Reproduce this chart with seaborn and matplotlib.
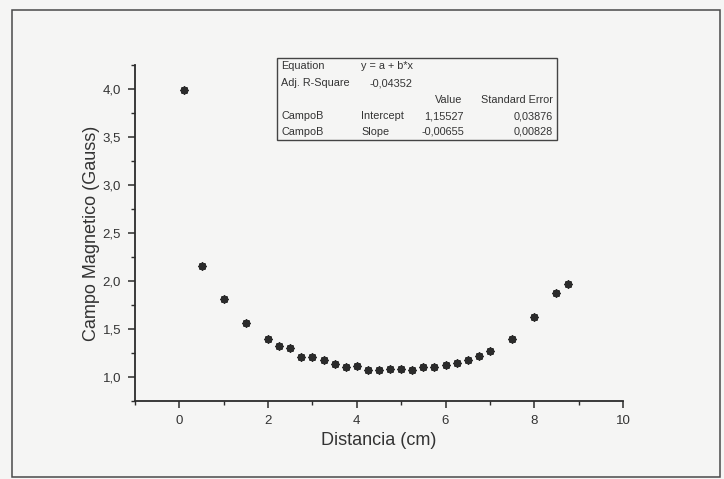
import matplotlib
matplotlib.use("Agg")
import matplotlib.pyplot as plt
import seaborn as sns
import pandas as pd
from matplotlib.patches import Rectangle
from matplotlib.ticker import MultipleLocator, FixedLocator

# ---- data ----
distancia = [0.1, 0.5, 1.0, 1.5, 2.0, 2.25, 2.5, 2.75, 3.0, 3.25, 3.5, 3.75, 4.0,
             4.25, 4.5, 4.75, 5.0, 5.25, 5.5, 5.75, 6.0, 6.25, 6.5, 6.75, 7.0,
             7.5, 8.0, 8.5, 8.75]
campo = [3.99, 2.16, 1.81, 1.56, 1.40, 1.32, 1.30, 1.21, 1.21, 1.18, 1.14, 1.10, 1.11,
         1.07, 1.07, 1.08, 1.08, 1.07, 1.10, 1.10, 1.13, 1.15, 1.18, 1.22, 1.27,
         1.40, 1.62, 1.88, 1.97]
x_ticks = [0, 2, 4, 6, 8, 10]
y_ticks = [1.0, 1.5, 2.0, 2.5, 3.0, 3.5, 4.0]
y_tick_labels = ["1,0", "1,5", "2,0", "2,5", "3,0", "3,5", "4,0"]

eq_text = "y = a + b*x"
adj_r2 = "-0,04352"
row_names = ["CampoB", "CampoB"]
param_names = ["Intercept", "Slope"]
param_values = ["1,15527", "-0,00655"]
param_errors = ["0,03876", "0,00828"]

df = pd.DataFrame({"Distancia (cm)": distancia, "Campo Magnetico (Gauss)": campo})

sns.set_style("ticks")
plt.rcParams["font.family"] = ["Liberation Sans", "DejaVu Sans"]

bg = "#f5f5f4"
ink = "#2b2b2b"
fig = plt.figure(figsize=(7.24, 4.79), dpi=100, facecolor=bg)
ax = fig.add_axes([135/724, 1-401/479, (623-135)/724, (401-65)/479])
ax.set_facecolor(bg)

sns.scatterplot(data=df, x="Distancia (cm)", y="Campo Magnetico (Gauss)", ax=ax,
                marker=(8, 2, 0), s=20, color=ink, edgecolor=ink, linewidth=1.6,
                legend=False, zorder=3)

ax.set_xlim(-1, 10)
ax.set_ylim(0.75, 4.25)
ax.xaxis.set_major_locator(FixedLocator(x_ticks))
ax.xaxis.set_minor_locator(MultipleLocator(1))
ax.yaxis.set_major_locator(FixedLocator(y_ticks))
ax.set_yticklabels(y_tick_labels)
ax.yaxis.set_minor_locator(MultipleLocator(0.25))
for s in ["top", "right"]:
    ax.spines[s].set_visible(False)
for s in ["left", "bottom"]:
    ax.spines[s].set_color(ink)
    ax.spines[s].set_linewidth(1.3)
ax.tick_params(which="major", direction="out", length=5, width=1.1, color=ink,
               labelsize=9.5, labelcolor="#333333", pad=5)
ax.tick_params(which="minor", direction="out", length=3, width=1.0, color=ink)
ax.set_xlabel("Distancia (cm)", fontsize=13, color="#333333", labelpad=4)
ax.set_ylabel("Campo Magnetico (Gauss)", fontsize=13, color="#333333", labelpad=2)

# ---- fit table box ----
W, H = 724, 479
def fx(px):
    return px / W
def fy(py):
    return 1 - py / H

fig.patches.append(Rectangle((fx(277), fy(140)), fx(557) - fx(277), fy(58) - fy(140),
                             transform=fig.transFigure, fill=False,
                             edgecolor="#444444", linewidth=1.0))
tkw = dict(fontsize=7.8, color="#333333", va="center")
fig.text(fx(281), fy(66), "Equation", **tkw)
fig.text(fx(361), fy(66), eq_text, **tkw)
fig.text(fx(281), fy(83), "Adj. R-Square", **tkw)
fig.text(fx(370), fy(83), adj_r2, **tkw)
fig.text(fx(462), fy(100), "Value", ha="right", **tkw)
fig.text(fx(553), fy(100), "Standard Error", ha="right", **tkw)
for i, ry in enumerate([116, 132]):
    fig.text(fx(281), fy(ry), row_names[i], **tkw)
    fig.text(fx(361), fy(ry), param_names[i], **tkw)
    fig.text(fx(464), fy(ry), param_values[i], ha="right", **tkw)
    fig.text(fx(553), fy(ry), param_errors[i], ha="right", **tkw)

# ---- page frame from the scan ----
fig.patches.append(Rectangle((fx(12), fy(477)), fx(720) - fx(12), fy(10) - fy(477),
                             transform=fig.transFigure, fill=False,
                             edgecolor="#4a4a4a", linewidth=1.1))

fig.savefig("out.png", dpi=100, facecolor=bg)
